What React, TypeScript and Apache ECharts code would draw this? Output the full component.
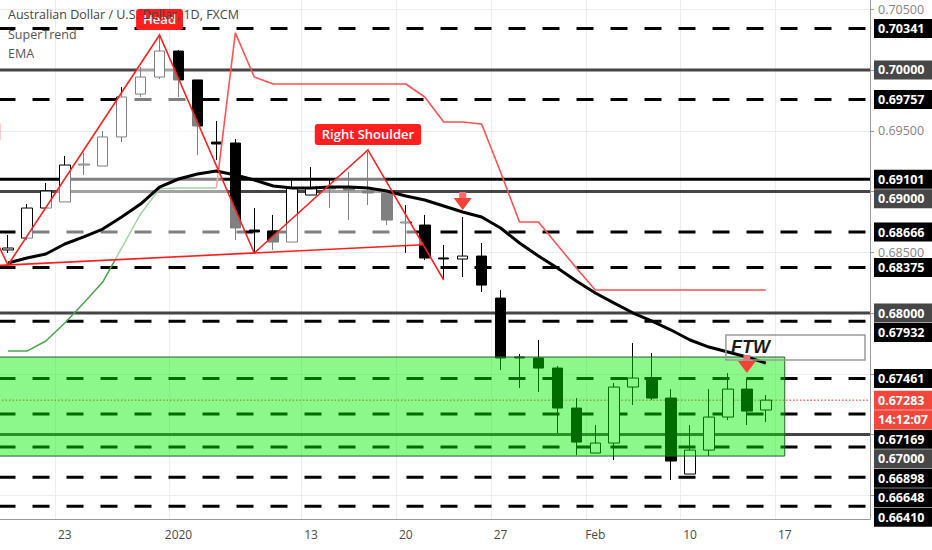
import { useEffect, useRef } from 'react';
import * as echarts from 'echarts';

// trading days shown on the chart (last five are empty future slots)
const categories = [
  'Dec 18', 'Dec 19', 'Dec 20', 'Dec 23', 'Dec 24', 'Dec 26', 'Dec 27', 'Dec 30', 'Dec 31',
  'Jan 2', 'Jan 3', 'Jan 6', 'Jan 7', 'Jan 8', 'Jan 9', 'Jan 10',
  'Jan 13', 'Jan 14', 'Jan 15', 'Jan 16', 'Jan 17',
  'Jan 20', 'Jan 21', 'Jan 22', 'Jan 23', 'Jan 24',
  'Jan 27', 'Jan 28', 'Jan 29', 'Jan 30', 'Jan 31',
  'Feb 3', 'Feb 4', 'Feb 5', 'Feb 6', 'Feb 7',
  'Feb 10', 'Feb 11', 'Feb 12', 'Feb 13', 'Feb 14',
  'Feb 17', 'Feb 18', 'Feb 19', 'Feb 20', 'Feb 21',
];
const tickDates = ['Dec 23', 'Jan 2', 'Jan 13', 'Jan 20', 'Jan 27', 'Feb 3', 'Feb 10', 'Feb 17'];
const tickTexts = ['23', '2020', '13', '20', '27', 'Feb', '10', '17'];

// [open, close, low, high]
const candles = [
  [0.68519, 0.68535, 0.68494, 0.68642],
  [0.68617, 0.68864, 0.68601, 0.68897],
  [0.68864, 0.69004, 0.68864, 0.6907],
  [0.68914, 0.69218, 0.68914, 0.69292],
  [0.69218, 0.69226, 0.69136, 0.69317],
  [0.6921, 0.69449, 0.6921, 0.69498],
  [0.69449, 0.69778, 0.69407, 0.6986],
  [0.69802, 0.69942, 0.69778, 0.70025],
  [0.69942, 0.70156, 0.69926, 0.70288],
  [0.70156, 0.69918, 0.69778, 0.70164],
  [0.69918, 0.69539, 0.693, 0.69918],
  [0.69407, 0.69391, 0.69259, 0.6958],
  [0.69399, 0.687, 0.68601, 0.69432],
  [0.68683, 0.68667, 0.68494, 0.68864],
  [0.68675, 0.68584, 0.68519, 0.68807],
  [0.68584, 0.69029, 0.68584, 0.69095],
  [0.68971, 0.69029, 0.68971, 0.69202],
  [0.69029, 0.69021, 0.68864, 0.69095],
  [0.69029, 0.69012, 0.68765, 0.6916],
  [0.69004, 0.68988, 0.68889, 0.69325],
  [0.68988, 0.68765, 0.68724, 0.68996],
  [0.68741, 0.68749, 0.68494, 0.68889],
  [0.68724, 0.68453, 0.68436, 0.68807],
  [0.68453, 0.68445, 0.6828, 0.6856],
  [0.68444, 0.68469, 0.68296, 0.6879],
  [0.68469, 0.6823, 0.68173, 0.68576],
  [0.68123, 0.6763, 0.67531, 0.68189],
  [0.67638, 0.6763, 0.67383, 0.67663],
  [0.6763, 0.67547, 0.6735, 0.67778],
  [0.67547, 0.67218, 0.67012, 0.67564],
  [0.67218, 0.66938, 0.66831, 0.673],
  [0.66848, 0.6693, 0.66848, 0.67078],
  [0.6693, 0.67391, 0.6679, 0.67424],
  [0.67391, 0.67465, 0.67243, 0.67753],
  [0.67465, 0.673, 0.67283, 0.67671],
  [0.673, 0.66782, 0.66626, 0.67374],
  [0.66675, 0.66872, 0.66675, 0.67078],
  [0.66872, 0.67144, 0.66823, 0.67374],
  [0.67144, 0.67374, 0.67119, 0.67506],
  [0.67374, 0.67193, 0.67078, 0.67465],
  [0.67202, 0.67283, 0.67103, 0.67325],
];

const emaValues = [
  0.68412, 0.68453, 0.68486, 0.68568, 0.68626, 0.68691, 0.6879, 0.68897, 0.69037,
  0.69103, 0.69144, 0.69169, 0.69136, 0.69095, 0.69045, 0.69029,
  0.69029, 0.69037, 0.69037, 0.69029, 0.69004,
  0.68963, 0.6893, 0.68881, 0.68831, 0.6879,
  0.687, 0.68576, 0.68469, 0.6837, 0.68263,
  0.68165, 0.68082, 0.68, 0.67934, 0.6786,
  0.67778, 0.6772, 0.67679, 0.67638, 0.67588,
];

const superTrendUp = [
  0.67687, 0.67687, 0.6777, 0.67918, 0.68082, 0.68255, 0.68535, 0.68815, 0.69022,
  0.69029, 0.69029, 0.69029, null, null, null, null,
  null, null, null, null, null,
  null, null, null, null, null,
  null, null, null, null, null,
  null, null, null, null, null,
  null, null, null, null, null,
];
const superTrendDown = [
  null, null, null, null, null, null, null, null, null,
  null, null, 0.69029, 0.70305, 0.69942, 0.69885, 0.69885,
  0.69885, 0.69885, 0.69885, 0.69885, 0.69885,
  0.69885, 0.69778, 0.69572, 0.69572, 0.69556,
  0.6916, 0.68749, 0.68749, 0.6856, 0.6837,
  0.68189, 0.68189, 0.68189, 0.68189, 0.68189,
  0.68189, 0.68189, 0.68189, 0.68189, 0.68189,
];

const solidLevels = [0.7, 0.69101, 0.69, 0.68, 0.67];
const dashedLevels = [0.70341, 0.69757, 0.68666, 0.68375, 0.67932, 0.67461, 0.67169, 0.66898, 0.66648, 0.6641];
const priceTicks = [0.665, 0.67, 0.675, 0.68, 0.685, 0.69, 0.695, 0.7, 0.705];
const priceTickLabels = [0.685, 0.695, 0.705];
const lastPrice = 0.67283;
const countdown = '14:12:07';

// head & shoulders pattern: category index and price of each pivot
const patternIdx = [-3, 0, 8, 13, 19, 23];
const patternPrices = [0.69366, 0.68395, 0.70288, 0.68494, 0.69342, 0.68272];
const patternLabels = ['Left Shoulder', '', 'Head', '', 'Right Shoulder', ''];

const zoneTop = 0.67638;
const zoneBottom = 0.66823;
const zoneEnd = 'Feb 17';
const ftwStart = 'Feb 12';
const ftwTop = 0.67819;
const ftwBottom = 0.67613;
const arrowDates = ['Jan 23', 'Feb 13'];
const arrowPrices = [0.68848, 0.67506];

const Y_MIN = 0.66305;
const Y_MAX = 0.70576;
const RED = '#ff1f1f';
const LABEL_FONT = '600 13px "Open Sans"';
const PRICE_FONT = 'bold 12.5px "Open Sans"';

const measureCtx = document.createElement('canvas').getContext('2d');
const textWidth = (t: string, font: string) => {
  if (!measureCtx) return t.length * 7;
  measureCtx.font = font;
  return measureCtx.measureText(t).width;
};
const isRound = (v: number) => Math.abs(Math.round(v * 100) - v * 100) < 1e-6;
const isTick = (_i: number, value: string) => tickDates.includes(value);

type Pt = number[];
const intersect = (a: Pt, b: Pt, c: Pt, d: Pt) => {
  const d1x = b[0] - a[0], d1y = b[1] - a[1];
  const d2x = d[0] - c[0], d2y = d[1] - c[1];
  const den = d1x * d2y - d1y * d2x;
  const t = ((c[0] - a[0]) * d2y - (c[1] - a[1]) * d2x) / den;
  return [a[0] + t * d1x, a[1] + t * d1y];
};
const atX = (a: Pt, b: Pt, x: number) => [x, a[1] + ((x - a[0]) * (b[1] - a[1])) / (b[0] - a[0])];

const patternPoints = (api: any) => patternIdx.map((x, i) => api.coord([x, patternPrices[i]]));

const renderLevels = (params: any, api: any) => {
  const cs = params.coordSys;
  const x1 = cs.x;
  const x2 = cs.x + cs.width;
  const children: any[] = [];
  dashedLevels.forEach((v) => {
    const y = api.coord([0, v])[1];
    children.push({ type: 'line', shape: { x1, y1: y, x2, y2: y }, style: { stroke: '#000', lineWidth: 3, lineDash: [17, 17] } });
  });
  solidLevels.forEach((v) => {
    const y = api.coord([0, v])[1];
    children.push({ type: 'line', shape: { x1, y1: y, x2, y2: y }, style: { stroke: isRound(v) ? '#454545' : '#000', lineWidth: 3 } });
  });
  const yp = api.coord([0, lastPrice])[1];
  children.push({ type: 'line', shape: { x1, y1: yp, x2, y2: yp }, style: { stroke: '#ff2020', lineWidth: 1, lineDash: [1.5, 2] } });
  return { type: 'group', children };
};

const renderOverlays = (params: any, api: any) => {
  const cs = params.coordSys;
  const pts = patternPoints(api);
  const q = intersect(pts[1], pts[3], pts[4], pts[5]);
  const top = api.coord([0, zoneTop])[1];
  const bottom = api.coord([0, zoneBottom])[1];
  const right = api.coord([categories.indexOf(zoneEnd), zoneTop])[0];
  return {
    type: 'group',
    children: [
      { type: 'polygon', shape: { points: [pts[1], pts[2], pts[3]] }, style: { fill: 'rgba(255,255,255,0.5)' } },
      { type: 'polygon', shape: { points: [pts[3], pts[4], q] }, style: { fill: 'rgba(255,255,255,0.5)' } },
      {
        type: 'rect',
        shape: { x: cs.x, y: top, width: right - cs.x, height: bottom - top },
        style: { fill: 'rgba(0,240,0,0.45)', stroke: '#2a5e2a', lineWidth: 1 },
      },
    ],
  };
};

const renderPattern = (params: any, api: any) => {
  const cs = params.coordSys;
  const pts = patternPoints(api);
  const q = intersect(pts[1], pts[3], pts[4], pts[5]);
  const neckStart = atX(pts[1], pts[3], cs.x - 60);
  const children: any[] = [
    { type: 'polyline', shape: { points: pts }, style: { stroke: RED, lineWidth: 1.6, fill: null } },
    { type: 'polyline', shape: { points: [neckStart, q] }, style: { stroke: RED, lineWidth: 1.6, fill: null } },
  ];
  patternLabels.forEach((label, i) => {
    if (!label) return;
    const w = textWidth(label, LABEL_FONT) + 14;
    const [px, py] = pts[i];
    children.push({
      type: 'rect',
      shape: { x: px - w / 2, y: py - 26, width: w, height: 21, r: 3 },
      style: { fill: RED },
    });
    children.push({
      type: 'text',
      style: {
        text: label, x: px, y: py - 15.5, fill: '#fff', font: LABEL_FONT,
        align: 'center', verticalAlign: 'middle', textAlign: 'center', textVerticalAlign: 'middle',
      },
    });
  });
  arrowDates.forEach((d, i) => {
    const [tx, ty] = api.coord([categories.indexOf(d), arrowPrices[i]]);
    children.push({ type: 'rect', shape: { x: tx - 3.5, y: ty - 18, width: 7, height: 6 }, style: { fill: '#ff6b6b' } });
    children.push({
      type: 'polygon',
      shape: { points: [[tx - 9, ty - 12], [tx + 9, ty - 12], [tx, ty]] },
      style: { fill: '#f44336' },
    });
  });
  const fx = api.coord([categories.indexOf(ftwStart), ftwTop])[0] - 2;
  const fTop = api.coord([0, ftwTop])[1];
  const fBottom = api.coord([0, ftwBottom])[1];
  const fRight = cs.x + cs.width - 5;
  children.push({
    type: 'rect',
    shape: { x: fx, y: fTop, width: fRight - fx, height: fBottom - fTop },
    style: { fill: 'none', stroke: '#9a9a9a', lineWidth: 1.5 },
  });
  children.push({
    type: 'text',
    style: {
      text: 'FTW', x: fx + 5, y: (fTop + fBottom) / 2 - 1, fill: '#1a1a1a',
      font: 'italic bold 18px "Liberation Sans"',
      align: 'left', verticalAlign: 'middle', textAlign: 'left', textVerticalAlign: 'middle',
    },
  });
  return { type: 'group', children };
};

const renderPriceScale = (params: any, api: any) => {
  const cs = params.coordSys;
  const boxX = cs.x + cs.width + 4;
  const boxW = 932 - boxX;
  const items = [
    ...dashedLevels.map((v) => ({ v, texts: [v.toFixed(5)], bg: '#000' })),
    ...solidLevels.map((v) => ({ v, texts: [v.toFixed(5)], bg: isRound(v) ? '#474747' : '#000' })),
    { v: lastPrice, texts: [lastPrice.toFixed(5), countdown], bg: '#f5463c' },
  ]
    .map((it) => ({ ...it, y: api.coord([0, it.v])[1] as number }))
    .sort((a, b) => a.y - b.y);
  const children: any[] = [];
  let prev = -Infinity;
  items.forEach((it) => {
    it.texts.forEach((t, k) => {
      const cy = k === 0 ? Math.max(it.y, prev + 19.5) : prev + 19.5;
      prev = cy;
      children.push({ type: 'rect', shape: { x: boxX, y: cy - 9.5, width: boxW, height: 19 }, style: { fill: it.bg } });
      children.push({
        type: 'text',
        style: {
          text: t, x: boxX + 4, y: cy, fill: '#fff', font: PRICE_FONT,
          align: 'left', verticalAlign: 'middle', textAlign: 'left', textVerticalAlign: 'middle',
        },
      });
    });
  });
  return { type: 'group', children };
};

const customSeries = (name: string, z: number, renderItem: any) => ({
  name,
  type: 'custom',
  z,
  silent: true,
  clip: false,
  renderItem,
  encode: { x: 0, y: 1 },
  data: [[0, lastPrice]],
});

const App = () => {
  const chartRef = useRef<HTMLDivElement>(null);

  useEffect(() => {
    if (!chartRef.current) return;
    const chart = echarts.init(chartRef.current, undefined, { renderer: 'svg' });

    const option: any = {
      animation: false,
      backgroundColor: '#fff',
      grid: { left: -1.5, right: 62, top: 0, bottom: 31, containLabel: false, outerBoundsMode: 'none' },
      xAxis: {
        type: 'category',
        data: categories,
        boundaryGap: true,
        axisLine: { lineStyle: { color: '#9a9a9a' } },
        axisTick: { interval: isTick, alignWithLabel: true, length: 4, lineStyle: { color: '#9a9a9a' } },
        axisLabel: {
          interval: isTick,
          formatter: (v: string) => tickTexts[tickDates.indexOf(v)] ?? '',
          color: '#4a4a4a',
          fontFamily: 'Open Sans',
          fontSize: 12,
          margin: 9,
        },
        splitLine: { show: true, interval: isTick, lineStyle: { color: '#ebedf0' } },
      },
      yAxis: {
        type: 'value',
        position: 'right',
        min: Y_MIN,
        max: Y_MAX,
        scale: true,
        axisLine: { show: true, lineStyle: { color: '#9a9a9a' } },
        axisTick: { show: true, customValues: priceTicks, length: 4, lineStyle: { color: '#9a9a9a' } },
        axisLabel: {
          customValues: priceTickLabels,
          formatter: (v: number) => v.toFixed(5),
          color: '#858585',
          fontFamily: 'Open Sans',
          fontSize: 12.5,
          margin: 8,
        },
        splitLine: { show: true, lineStyle: { color: '#ebedf0' } },
      },
      graphic: [
        { type: 'text', left: 8, top: 8, z: 100, style: { text: 'Australian Dollar / U.S. Dollar, 1D, FXCM', font: '12.5px "Open Sans"', fill: '#454545' } },
        { type: 'text', left: 8, top: 28, z: 100, style: { text: 'SuperTrend', font: '12.5px "Open Sans"', fill: '#555' } },
        { type: 'text', left: 8, top: 47, z: 100, style: { text: 'EMA', font: '12.5px "Open Sans"', fill: '#555' } },
      ],
      series: [
        customSeries('levels', 1, renderLevels),
        {
          name: 'AUDUSD',
          type: 'candlestick',
          z: 2,
          data: candles,
          barWidth: 11,
          itemStyle: {
            color: '#ffffff',
            color0: '#000000',
            borderColor: '#000000',
            borderColor0: '#000000',
            borderWidth: 1,
          },
        },
        {
          name: 'SuperTrend Up',
          type: 'line',
          z: 3,
          data: superTrendUp,
          showSymbol: false,
          lineStyle: { color: '#47a84b', width: 1.5 },
        },
        {
          name: 'SuperTrend Down',
          type: 'line',
          z: 3,
          data: superTrendDown,
          showSymbol: false,
          lineStyle: { color: '#ff5252', width: 1.6 },
        },
        customSeries('overlays', 4, renderOverlays),
        {
          name: 'EMA',
          type: 'line',
          z: 5,
          data: emaValues,
          showSymbol: false,
          lineStyle: { color: '#000', width: 3 },
        },
        customSeries('pattern', 6, renderPattern),
        customSeries('priceScale', 7, renderPriceScale),
      ],
    };

    chart.setOption(option);

    return () => {
      chart.dispose();
    };
  }, []);

  return (
    <div
      ref={chartRef}
      style={{ position: 'fixed', left: 0, top: 0, width: 932, height: 550, background: '#fff' }}
    />
  );
};

export default App;
